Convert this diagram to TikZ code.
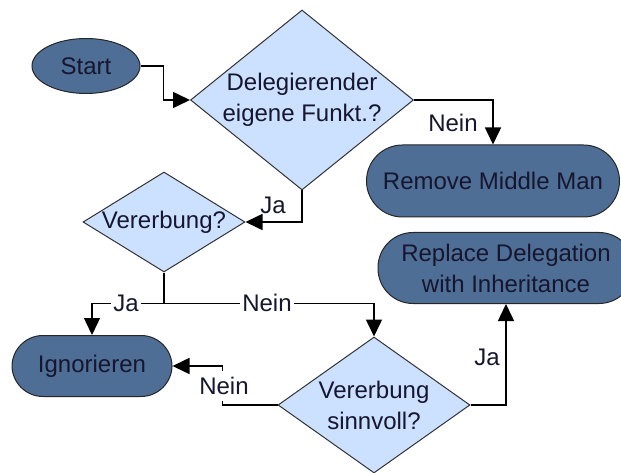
\documentclass[tikz,border=0pt]{standalone}
\usepackage{fontspec}
\setmainfont{Liberation Sans}
\usetikzlibrary{shapes.geometric,arrows.meta}
\definecolor{termfill}{HTML}{4E6E96}
\definecolor{decfill}{HTML}{CCE0FF}
\definecolor{inktext}{HTML}{16162E}
\begin{document}
\begin{tikzpicture}[x=1pt,y=-1pt,
  every node/.style={font=\fontsize{24}{31}\selectfont, text=inktext},
  terminal/.style={draw=black!85, line width=1pt, fill=termfill, align=center, inner sep=0pt},
  stadium/.style={terminal, rectangle, rounded corners=#1},
  decision/.style={diamond, draw=black!80, line width=1pt, fill=decfill, inner sep=0pt},
  dtext/.style={align=center, inner sep=0pt},
  flow/.style={draw=black, line width=1.5pt, -{Triangle[length=17pt,width=16pt]}},
  edgelabel/.style={inner sep=1pt},
  onlinelabel/.style={fill=white, inner xsep=2pt, inner ysep=6pt}]
\useasboundingbox (0,0) rectangle (621,473);
\clip (0,0) rectangle (621,473);

% shapes
\node[terminal, ellipse, minimum width=108pt, minimum height=55pt] (start) at (86,66) {Start};
\node[decision, minimum width=223pt, minimum height=180pt,
      label={[dtext]center:Delegierender\\eigene Funkt.?}] (d1) at (302,100) {};
\node[stadium=36pt, minimum width=253pt, minimum height=72pt] (rmm) at (493,181) {Remove Middle Man};
\node[decision, minimum width=162pt, minimum height=100pt,
      label={[dtext]center:Vererbung?}] (d2) at (164,222) {};
\node[stadium=31pt, minimum width=160pt, minimum height=61pt] (ign) at (92,366) {Ignorieren};
\node[decision, minimum width=192pt, minimum height=136pt,
      label={[dtext]center:Vererbung\\sinnvoll?}] (d3) at (374,405) {};
\node[stadium=35pt, minimum width=256pt, minimum height=71pt] (rep) at (506,268) {Replace Delegation\\with Inheritance};

% connectors
\draw[flow] (start.east) -- ++(23,0) |- (d1.west);
\draw[flow] (d1.east) -| (rmm.north);
\draw[flow] (d1.south) |- (d2.east);
\coordinate (split) at ([yshift=-31pt]d2.south);
\draw[line width=1.5pt] (d2.south) -- (split);
\draw[flow] (split) -| (ign.north);
\draw[flow] (split) -| (d3.north);
\draw[flow] (d3.west) -- ++(-55,0) |- (ign.east);
\draw[flow] (d3.east) -| (rep.south);

% branch labels
\node[edgelabel] (l1) at (453,123) {Nein};
\node[edgelabel] (l2) at (273,205) {Ja};
\node[onlinelabel] (l3) at (126,303) {Ja};
\node[onlinelabel] (l4) at (267,303) {Nein};
\node[onlinelabel] (l5) at (224,386) {Nein};
\node[edgelabel] (l6) at (487,357) {Ja};
\end{tikzpicture}
\end{document}
